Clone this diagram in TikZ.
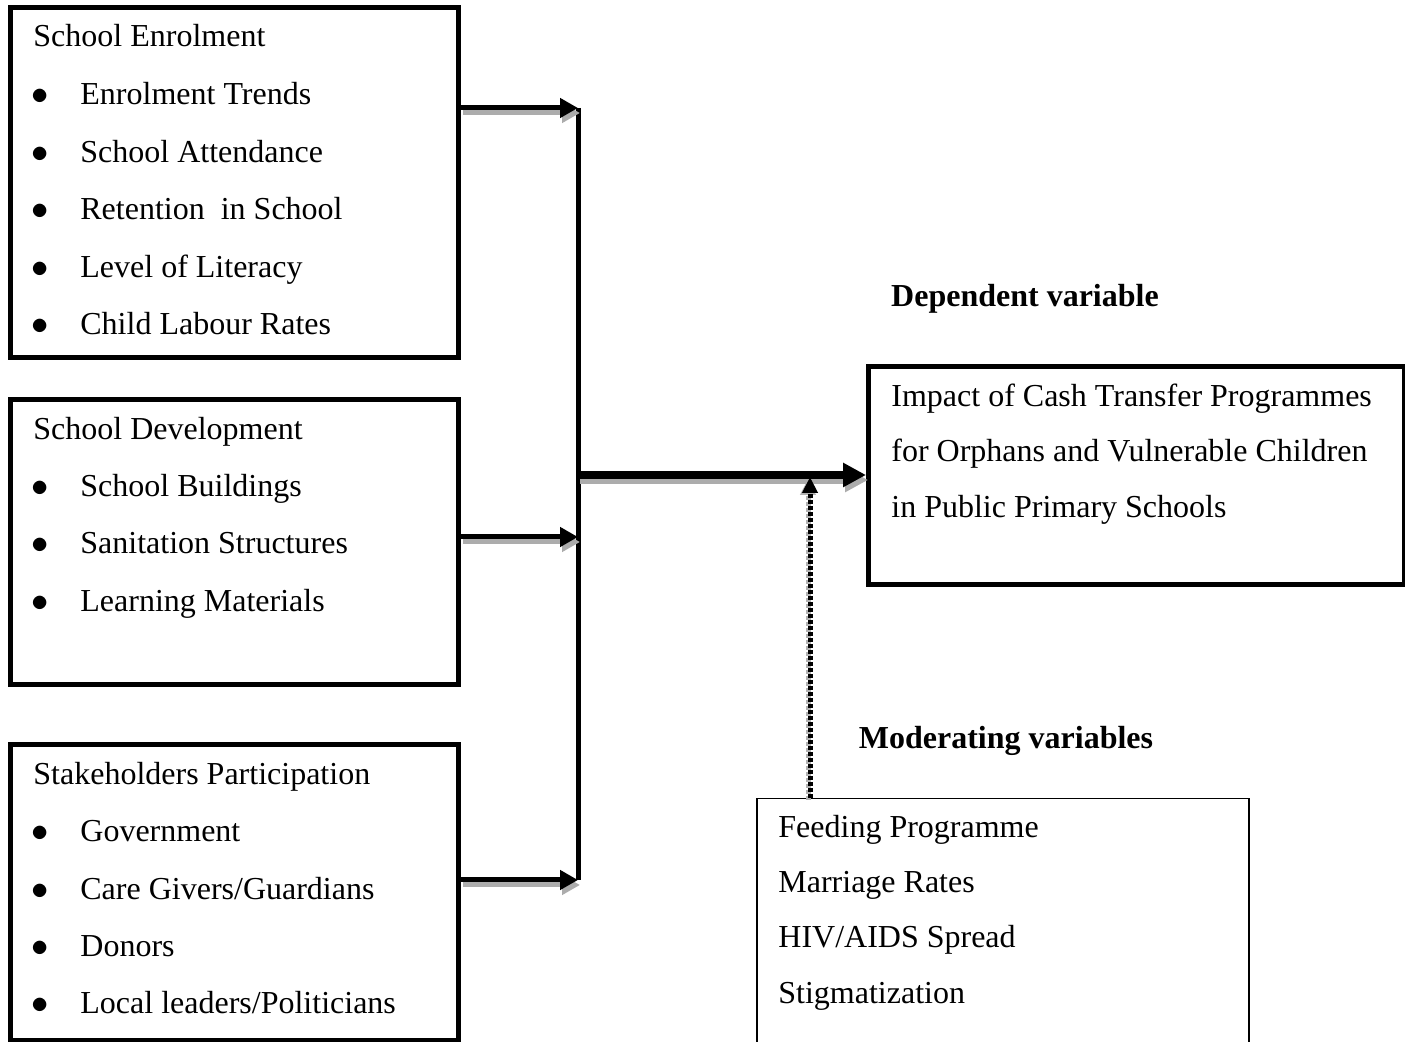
\documentclass[tikz,border=0pt]{standalone}
\usepackage{fontspec}
\setmainfont{Liberation Serif}
\usetikzlibrary{arrows.meta}
\usetikzlibrary{positioning}

\tikzset{
  box/.style={draw, line width=2.4pt, anchor=north west, inner sep=0pt},
  thinbox/.style={draw, line width=0.75pt, anchor=north west, inner sep=0pt},
  txt/.style={anchor=base west, inner sep=0pt, font=\fontsize{16}{19}\selectfont},
  blt/.style={anchor=base, inner sep=0pt, font=\fontsize{16}{19}\selectfont},
  head/.style={anchor=base, inner sep=0pt, font=\fontsize{16}{19}\selectfont\bfseries},
  shade/.style={preaction={draw=gray!65, line width=#1, transform canvas={shift={(1pt,-2.5pt)}}}},
  link/.style={line width=2.5pt, -{Triangle[length=9pt,width=9.5pt]}, shade=2.5pt},
}

\begin{document}
\begin{tikzpicture}[x=0.5pt, y=-0.5pt]
\useasboundingbox (0,0) rectangle (1405,1042);
% boxes
\node[box, minimum width=224pt, minimum height=175pt] (enrol) at (8,5) {};
\node[box, minimum width=224pt, minimum height=142.5pt] (devel) at (8,397) {};
\node[box, minimum width=224pt, minimum height=148pt] (stake) at (8,742) {};
\node[box, minimum width=268pt, minimum height=109pt] (impact) at (866,364) {};
\node[thinbox, minimum width=246pt, minimum height=160pt] (moder) at (756,798) {};
% school enrolment
\node[txt] (e0) at (33,47) {School Enrolment};
\node[blt] (e1b) at (40,105) {$\bullet$};
\node[txt] (e1) at (80,105) {Enrolment Trends};
\node[blt] (e2b) at (40,163) {$\bullet$};
\node[txt] (e2) at (80,163) {School Attendance};
\node[blt] (e3b) at (40,220) {$\bullet$};
\node[txt] (e3) at (80,220) {Retention\ \ in School};
\node[blt] (e4b) at (40,278) {$\bullet$};
\node[txt] (e4) at (80,278) {Level of Literacy};
\node[blt] (e5b) at (40,335) {$\bullet$};
\node[txt] (e5) at (80,335) {Child Labour Rates};
% school development
\node[txt] (d0) at (33,440) {School Development};
\node[blt] (d1b) at (40,497) {$\bullet$};
\node[txt] (d1) at (80,497) {School Buildings};
\node[blt] (d2b) at (40,554) {$\bullet$};
\node[txt] (d2) at (80,554) {Sanitation Structures};
\node[blt] (d3b) at (40,612) {$\bullet$};
\node[txt] (d3) at (80,612) {Learning Materials};
% stakeholders
\node[txt] (s0) at (33,785) {Stakeholders Participation};
\node[blt] (s1b) at (40,842) {$\bullet$};
\node[txt] (s1) at (80,842) {Government};
\node[blt] (s2b) at (40,900) {$\bullet$};
\node[txt] (s2) at (80,900) {Care Givers/Guardians};
\node[blt] (s3b) at (40,957) {$\bullet$};
\node[txt] (s3) at (80,957) {Donors};
\node[blt] (s4b) at (40,1014) {$\bullet$};
\node[txt] (s4) at (80,1014) {Local leaders/Politicians};
% dependent
\node[head] (deplab) at (1025,307) {Dependent variable};
\node[txt] (i1) at (891,407) {Impact of Cash Transfer Programmes};
\node[txt] (i2) at (891,462) {for Orphans and Vulnerable Children};
\node[txt] (i3) at (891,518) {in Public Primary Schools};
% moderating
\node[head] (modlab) at (1006,749) {Moderating variables};
\node[txt] (m1) at (778,838) {Feeding Programme};
\node[txt] (m2) at (778,893) {Marriage Rates};
\node[txt] (m3) at (778,948) {HIV/AIDS Spread};
\node[txt] (m4) at (778,1004) {Stigmatization};
% connectors
\coordinate (jtop) at (578,108);
\coordinate (jmid) at (578,475);
\coordinate (jbot) at (578,880);
\coordinate (dotp) at (810,477);
\draw[line width=2.5pt] (jtop) -- (jbot);
\draw[link] (enrol.east |- jtop) -- (jtop);
\draw[link] (devel.east |- 0,537) -- (jmid |- 0,537);
\draw[link] (stake.east |- jbot) -- (jbot);
\draw[line width=4pt, -{Triangle[length=11.5pt,width=11.5pt]}, shade=4pt] (jmid) -- (impact.west |- jmid);
\draw[line width=2.5pt, dash pattern=on 2pt off 1pt, -{Triangle[length=8pt,width=7.5pt]},
  preaction={draw=gray!60, line width=2.5pt, dash pattern=on 2pt off 1pt, transform canvas={shift={(-1pt,-1pt)}}}]
  (moder.north -| dotp) -- (dotp);
\end{tikzpicture}
\end{document}
